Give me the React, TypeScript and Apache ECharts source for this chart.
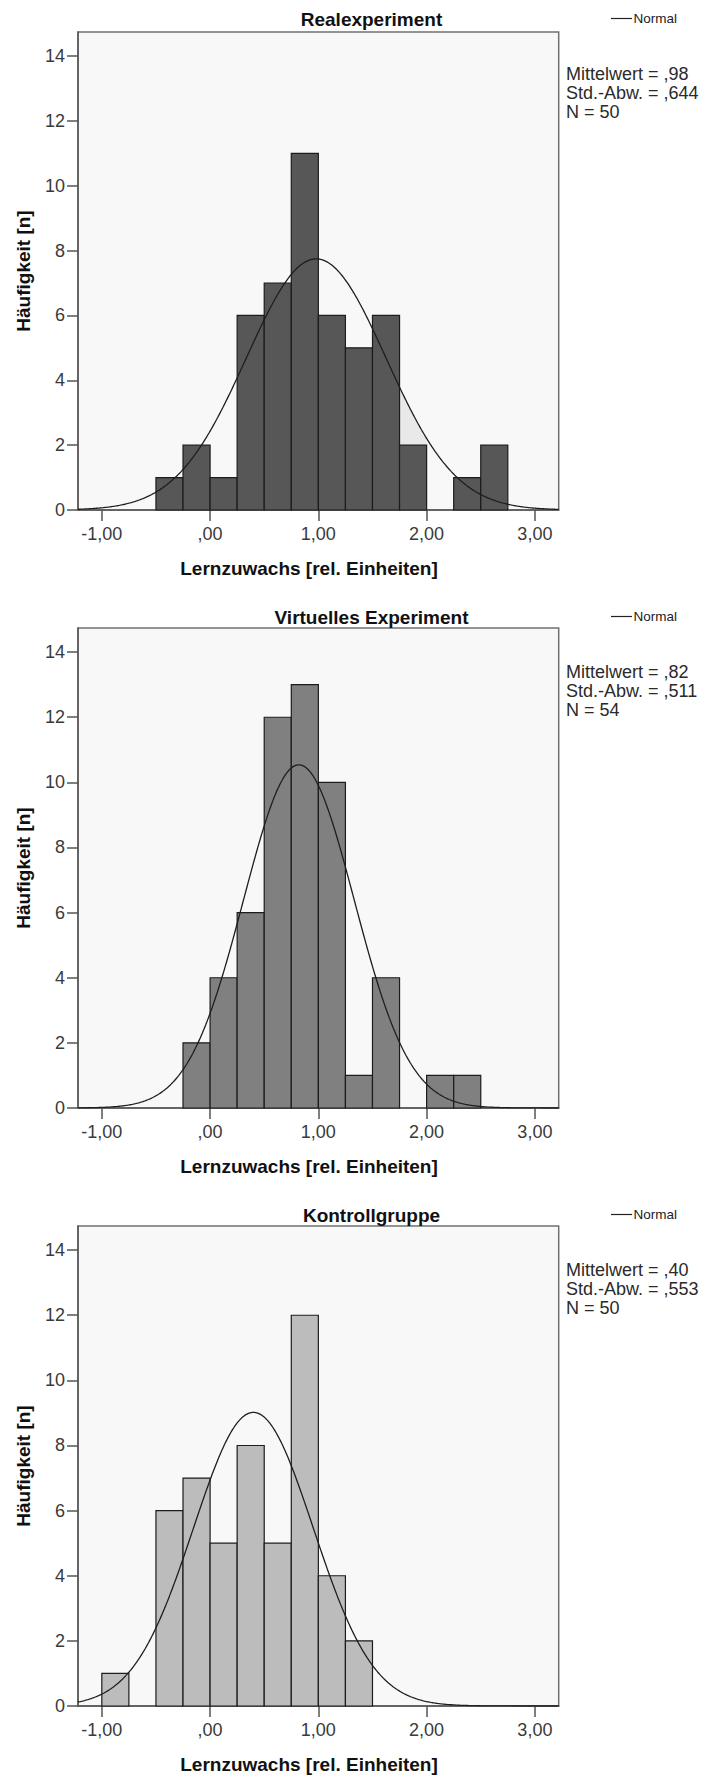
import React, { useEffect, useRef } from "react";
import * as echarts from "echarts";

// Histogram data (bin lower edges, counts) per group
const BIN_WIDTH = 0.25;
const panelTitles = ["Realexperiment", "Virtuelles Experiment", "Kontrollgruppe"];

const realBinStarts = [-0.5, -0.25, 0, 0.25, 0.5, 0.75, 1.0, 1.25, 1.5, 1.75, 2.0, 2.25, 2.5];
const realCounts = [1, 2, 1, 6, 7, 11, 6, 5, 6, 2, 0, 1, 2];

const virtualBinStarts = [-0.25, 0, 0.25, 0.5, 0.75, 1.0, 1.25, 1.5, 1.75, 2.0, 2.25];
const virtualCounts = [2, 4, 6, 12, 13, 10, 1, 4, 0, 1, 1];

const controlBinStarts = [-1.0, -0.75, -0.5, -0.25, 0, 0.25, 0.5, 0.75, 1.0, 1.25];
const controlCounts = [1, 0, 6, 7, 5, 8, 5, 12, 4, 2];

// Descriptive statistics shown beside each panel
const means = [0.98, 0.82, 0.4];
const stdDevs = [0.644, 0.511, 0.553];
const sampleSizes = [50, 54, 50];
const meanLabels = [",98", ",82", ",40"];
const sdLabels = [",644", ",511", ",553"];

// Axis ticks
const xTicks = [-1, 0, 1, 2, 3];
const yTicks = [0, 2, 4, 6, 8, 10, 12, 14];

// Light fill under the normal curve in the first panel
const shadedRange = [1.75, 2.0];

const X_MIN = -1.22;
const X_MAX = 3.22;
const Y_MAX = 14.74;

const barColors = ["#575757", "#808080", "#bcbcbc"];
const FONT = '"Liberation Sans", Arial, Helvetica, sans-serif';

const gridTops = [32, 628, 1226];
const gridBottoms = [510, 1108, 1706];
const panelOffsets = [0, 598, 1196];
const GRID_LEFT = 78;
const GRID_WIDTH = 480.7;

function fmtX(v: number): string {
  const s = Math.abs(v).toFixed(2).replace(".", ",");
  const t = s.startsWith("0,") ? s.slice(1) : s;
  return (v < 0 ? "-" : "") + t;
}

function normalCurve(mean: number, sd: number, n: number, from: number, to: number) {
  const pts: number[][] = [];
  const k = (n * BIN_WIDTH) / (sd * Math.sqrt(2 * Math.PI));
  const steps = Math.round((to - from) / 0.01);
  for (let i = 0; i <= steps; i++) {
    const x = from + ((to - from) * i) / steps;
    const z = (x - mean) / sd;
    pts.push([x, k * Math.exp(-0.5 * z * z)]);
  }
  return pts;
}

export default function App() {
  const ref = useRef<HTMLDivElement>(null);

  useEffect(() => {
    document.body.style.margin = "0";
    document.body.style.overflow = "hidden";
    if (!ref.current) return;
    const chart = echarts.init(ref.current, undefined, { renderer: "svg" });

    const binSets = [
      { starts: realBinStarts, counts: realCounts },
      { starts: virtualBinStarts, counts: virtualCounts },
      { starts: controlBinStarts, counts: controlCounts },
    ];

    const grids: any[] = [];
    const xAxes: any[] = [];
    const yAxes: any[] = [];
    const series: any[] = [];
    const graphics: any[] = [];

    binSets.forEach((set, i) => {
      const off = panelOffsets[i];
      grids.push({
        left: GRID_LEFT,
        top: gridTops[i],
        width: GRID_WIDTH,
        height: gridBottoms[i] - gridTops[i],
        show: true,
        backgroundColor: "#f8f8f8",
        borderColor: "#707070",
        borderWidth: 1.5,
        outerBoundsMode: "none",
        containLabel: false,
      });
      xAxes.push({
        type: "value",
        gridIndex: i,
        min: X_MIN,
        max: X_MAX,
        splitLine: { show: false },
        axisLine: { show: true, onZero: false, lineStyle: { color: "#555", width: 1.5 } },
        axisTick: { show: true, inside: false, length: 11, customValues: xTicks, lineStyle: { color: "#555", width: 1.5 } },
        axisLabel: {
          show: true,
          customValues: xTicks,
          margin: 15,
          fontSize: 18,
          fontFamily: FONT,
          color: "#3a3a3a",
          formatter: (v: number) => fmtX(v),
        },
      });
      yAxes.push({
        type: "value",
        gridIndex: i,
        min: 0,
        max: Y_MAX,
        splitLine: { show: false },
        axisLine: { show: true, onZero: false, lineStyle: { color: "#555", width: 1.5 } },
        axisTick: { show: true, inside: false, length: 11, customValues: yTicks, lineStyle: { color: "#555", width: 1.5 } },
        axisLabel: {
          show: true,
          customValues: yTicks,
          margin: 13,
          fontSize: 18,
          fontFamily: FONT,
          color: "#3a3a3a",
        },
      });

      if (i === 0) {
        series.push({
          type: "line",
          xAxisIndex: i,
          yAxisIndex: i,
          data: normalCurve(means[i], stdDevs[i], sampleSizes[i], shadedRange[0], shadedRange[1]),
          showSymbol: false,
          symbol: "none",
          lineStyle: { width: 0, opacity: 0 },
          areaStyle: { color: "#e9e9e9", opacity: 1 },
          z: 1,
          silent: true,
        });
      }

      const color = barColors[i];
      series.push({
        type: "custom",
        xAxisIndex: i,
        yAxisIndex: i,
        z: 2,
        data: set.starts.map((s, j) => [s, s + BIN_WIDTH, set.counts[j]]),
        encode: { x: [0, 1], y: 2 },
        renderItem: (params: any, api: any) => {
          const x0 = api.value(0);
          const x1 = api.value(1);
          const c = api.value(2);
          if (!c) return null;
          const p0 = api.coord([x0, c]);
          const p1 = api.coord([x1, 0]);
          return {
            type: "rect",
            shape: { x: p0[0], y: p0[1], width: p1[0] - p0[0], height: p1[1] - p0[1] },
            style: { fill: color, stroke: "#1c1c1c", lineWidth: 1.2 },
          };
        },
      });

      series.push({
        type: "line",
        name: "Normal",
        xAxisIndex: i,
        yAxisIndex: i,
        data: normalCurve(means[i], stdDevs[i], sampleSizes[i], X_MIN, X_MAX),
        showSymbol: false,
        symbol: "none",
        smooth: false,
        lineStyle: { color: "#1e1e1e", width: 1.3 },
        z: 3,
        silent: true,
      });

      // Panel title
      graphics.push({
        type: "text",
        x: 371.5,
        y: 19.5 + off,
        style: {
          text: panelTitles[i],
          fontFamily: FONT,
          fontWeight: "bold",
          fontSize: 19,
          fill: "#111",
          align: "center",
          verticalAlign: "middle",
        },
      });
      // Legend
      graphics.push({
        type: "line",
        shape: { x1: 611, y1: 18.5 + off, x2: 632, y2: 18.5 + off },
        style: { stroke: "#222", lineWidth: 1.2 },
      });
      graphics.push({
        type: "text",
        x: 633.5,
        y: 18.5 + off,
        style: {
          text: "Normal",
          fontFamily: FONT,
          fontSize: 13.5,
          fill: "#222",
          align: "left",
          verticalAlign: "middle",
        },
      });
      // Statistics
      const stats = [
        "Mittelwert = " + meanLabels[i],
        "Std.-Abw. = " + sdLabels[i],
        "N = " + sampleSizes[i],
      ];
      stats.forEach((t, k) => {
        graphics.push({
          type: "text",
          x: 566,
          y: 74 + off + k * 19.2,
          style: {
            text: t,
            fontFamily: FONT,
            fontSize: 18,
            fill: "#2a2a2a",
            align: "left",
            verticalAlign: "middle",
          },
        });
      });
      // Axis names
      graphics.push({
        type: "text",
        x: 309,
        y: 568 + off,
        style: {
          text: "Lernzuwachs [rel. Einheiten]",
          fontFamily: FONT,
          fontWeight: "bold",
          fontSize: 19,
          fill: "#111",
          align: "center",
          verticalAlign: "middle",
        },
      });
      graphics.push({
        type: "text",
        x: 23,
        y: (gridTops[i] + gridBottoms[i]) / 2,
        rotation: Math.PI / 2,
        style: {
          text: "Häufigkeit [n]",
          fontFamily: FONT,
          fontWeight: "bold",
          fontSize: 19,
          fill: "#111",
          align: "center",
          verticalAlign: "middle",
        },
      });
    });

    chart.setOption({
      animation: false,
      backgroundColor: "#ffffff",
      grid: grids,
      xAxis: xAxes,
      yAxis: yAxes,
      series,
      graphic: graphics,
    });

    return () => chart.dispose();
  }, []);

  return <div ref={ref} style={{ width: 707, height: 1776 }} />;
}
